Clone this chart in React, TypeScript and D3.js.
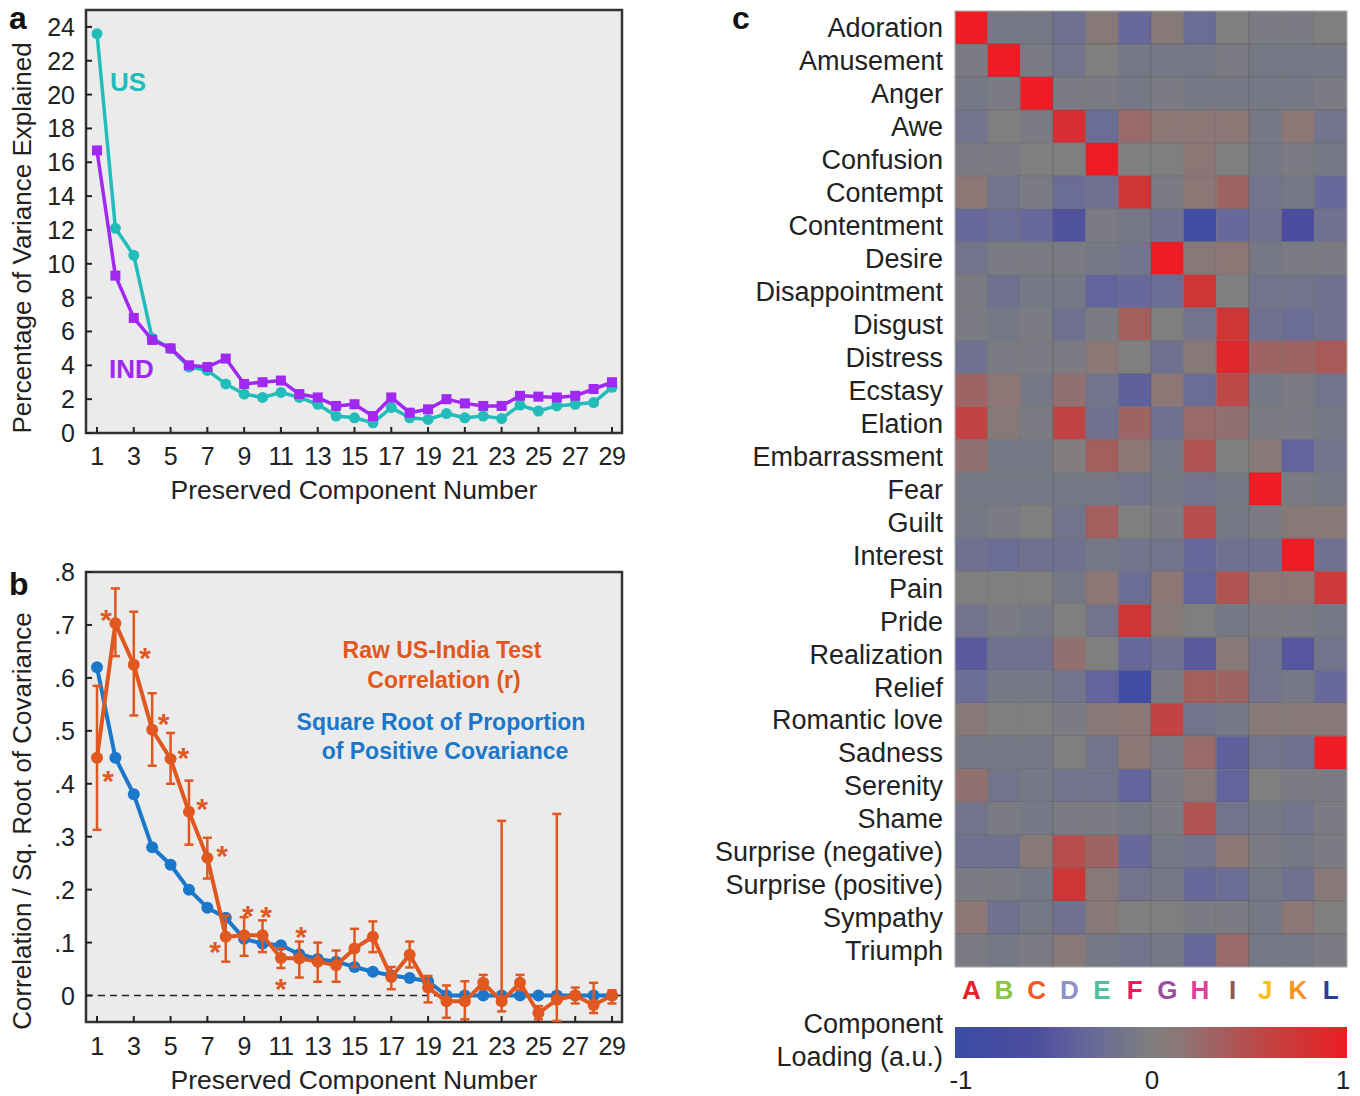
import React from "react";
import * as d3 from "d3";

// ---------- DATA ----------
const componentNums = d3.range(1, 30);
const xTickLabels = [1, 3, 5, 7, 9, 11, 13, 15, 17, 19, 21, 23, 25, 27, 29];

// Panel a: % variance explained
const usVariance = [23.6, 12.1, 10.5, 5.6, 5.0, 3.9, 3.7, 2.9, 2.3, 2.1, 2.4, 2.1, 1.7, 1.0, 0.9, 0.6, 1.5, 0.9, 0.8, 1.15, 0.9, 1.0, 0.85, 1.65, 1.3, 1.6, 1.7, 1.8, 2.7];
const indVariance = [16.7, 9.3, 6.8, 5.5, 5.0, 4.0, 3.9, 4.4, 2.9, 3.0, 3.1, 2.3, 2.1, 1.6, 1.7, 1.0, 2.1, 1.2, 1.4, 2.0, 1.75, 1.6, 1.6, 2.2, 2.15, 2.1, 2.2, 2.6, 3.0];
const yTicksA = [0, 2, 4, 6, 8, 10, 12, 14, 16, 18, 20, 22, 24];

// Panel b: correlations
const rawCorr = [0.449, 0.703, 0.625, 0.502, 0.447, 0.347, 0.26, 0.111, 0.114, 0.114, 0.071, 0.07, 0.064, 0.057, 0.089, 0.111, 0.035, 0.077, 0.015, -0.011, -0.011, 0.024, -0.011, 0.024, -0.033, -0.008, 0.0, -0.018, 0.0];
const rawHi = [0.585, 0.769, 0.725, 0.571, 0.496, 0.406, 0.298, 0.151, 0.148, 0.142, 0.089, 0.102, 0.1, 0.085, 0.126, 0.14, 0.054, 0.102, 0.037, 0.019, 0.027, 0.039, 0.33, 0.039, -0.02, 0.343, 0.015, 0.024, 0.01];
const rawLo = [0.313, 0.641, 0.529, 0.434, 0.4, 0.285, 0.221, 0.064, 0.075, 0.082, 0.052, 0.034, 0.026, 0.026, 0.054, 0.082, 0.012, 0.053, -0.013, -0.042, -0.045, 0.012, -0.03, 0.01, -0.045, -0.048, -0.015, -0.033, -0.015];
const sqrtPosCov = [0.62, 0.449, 0.38, 0.28, 0.247, 0.2, 0.166, 0.147, 0.107, 0.098, 0.095, 0.078, 0.069, 0.064, 0.054, 0.045, 0.038, 0.033, 0.027, 0, 0, 0, 0, 0, 0, 0, 0, 0, 0];
const yTicksB = [0, 0.1, 0.2, 0.3, 0.4, 0.5, 0.6, 0.7, 0.8];
const yTickLabelsB = ["0", ".1", ".2", ".3", ".4", ".5", ".6", ".7", ".8"];
const starX = [1.6, 1.5, 3.62, 4.62, 5.7, 6.72, 7.8, 7.42, 9.2, 10.2, 11.0, 12.1];
const starY = [0.419, 0.723, 0.651, 0.526, 0.462, 0.366, 0.277, 0.095, 0.164, 0.161, 0.025, 0.123];

// Panel c: heatmap
const emotions = ["Adoration", "Amusement", "Anger", "Awe", "Confusion", "Contempt", "Contentment", "Desire", "Disappointment", "Disgust", "Distress", "Ecstasy", "Elation", "Embarrassment", "Fear", "Guilt", "Interest", "Pain", "Pride", "Realization", "Relief", "Romantic love", "Sadness", "Serenity", "Shame", "Surprise (negative)", "Surprise (positive)", "Sympathy", "Triumph"];
const components = ["A", "B", "C", "D", "E", "F", "G", "H", "I", "J", "K", "L"];
const componentColors = ["#e8202a", "#8cc63e", "#f15a24", "#8e90cc", "#52bf9b", "#ec1b5a", "#9b4f9f", "#e0409a", "#8b5a4a", "#fdc010", "#f7931e", "#2b3d96"];
const loadings = [
  [1, -0.1, -0.1, -0.2, 0.1, -0.3, 0.1, -0.25, 0, -0.05, -0.05, 0],
  [-0.05, 1, -0.05, -0.15, 0, -0.1, -0.1, -0.1, -0.05, -0.1, -0.1, -0.1],
  [-0.1, -0.05, 1, -0.05, -0.05, -0.1, -0.05, -0.1, -0.1, -0.1, -0.1, -0.05],
  [-0.15, 0, -0.05, 0.82, -0.25, 0.25, 0.15, 0.15, 0.15, -0.1, 0.15, -0.15],
  [-0.05, -0.05, 0, 0, 1, 0, 0, 0.15, 0, -0.1, -0.05, -0.1],
  [0.15, -0.15, -0.05, -0.25, -0.2, 0.75, -0.05, 0.15, 0.3, -0.15, -0.1, -0.3],
  [-0.3, -0.25, -0.3, -0.55, -0.05, -0.1, -0.2, -0.8, -0.3, -0.2, -0.6, -0.2],
  [-0.15, -0.05, -0.05, -0.05, -0.1, -0.15, 1, 0.1, 0.15, -0.1, -0.05, -0.05],
  [-0.05, -0.2, -0.1, -0.1, -0.35, -0.3, -0.25, 0.75, 0, -0.15, -0.15, -0.2],
  [-0.05, -0.1, -0.05, -0.2, -0.05, 0.35, 0, -0.15, 0.75, -0.2, -0.25, -0.2],
  [-0.2, -0.05, -0.05, -0.05, 0.15, 0, -0.2, 0.1, 0.9, 0.3, 0.3, 0.4],
  [0.3, 0.15, -0.1, 0.2, -0.15, -0.4, 0.15, -0.25, 0.55, -0.1, -0.05, -0.15],
  [0.6, 0.1, -0.05, 0.6, -0.2, 0.3, -0.2, 0.25, 0.2, -0.05, -0.05, -0.1],
  [0.2, -0.1, -0.1, 0.05, 0.35, 0.15, -0.1, 0.45, 0, 0.1, -0.35, -0.15],
  [-0.1, -0.1, -0.1, -0.1, -0.1, -0.15, -0.1, -0.15, -0.1, 1, -0.05, -0.1],
  [-0.1, -0.05, 0, -0.15, 0.35, 0, -0.05, 0.5, -0.1, -0.05, 0.1, 0.1],
  [-0.2, -0.25, -0.2, -0.2, -0.1, -0.15, -0.15, -0.3, -0.2, -0.2, 1, -0.2],
  [0, 0, 0, -0.1, 0.15, -0.25, 0.15, -0.35, 0.45, 0.15, 0.15, 0.7],
  [-0.15, -0.05, -0.1, 0, -0.15, 0.75, 0.1, 0, -0.1, -0.05, -0.05, -0.1],
  [-0.45, -0.2, -0.2, 0.2, 0, -0.3, -0.2, -0.45, 0.1, -0.15, -0.5, -0.15],
  [-0.25, -0.1, -0.1, -0.15, -0.35, -0.85, -0.05, 0.35, 0.3, -0.15, -0.1, -0.3],
  [0.1, 0, 0, -0.05, 0.1, 0.15, 0.6, -0.15, -0.1, 0.1, 0.1, 0.1],
  [-0.1, -0.1, -0.1, 0, -0.15, 0.15, -0.05, 0.25, -0.4, -0.15, -0.2, 1],
  [0.2, -0.15, -0.1, -0.15, -0.15, -0.35, -0.05, 0.1, -0.35, 0, -0.05, -0.05],
  [-0.15, -0.05, -0.1, -0.05, -0.05, -0.1, -0.05, 0.45, -0.15, -0.1, -0.15, -0.05],
  [-0.2, -0.2, 0.1, 0.5, 0.3, -0.3, -0.1, -0.15, 0.15, -0.05, -0.1, -0.05],
  [-0.05, -0.05, -0.1, 0.75, 0.1, -0.15, -0.1, -0.3, -0.25, -0.1, -0.2, 0.1],
  [0.15, -0.2, -0.1, -0.2, 0.1, 0, 0, -0.05, -0.05, -0.1, 0.15, 0],
  [-0.05, -0.1, -0.05, 0.1, -0.1, -0.15, -0.1, -0.3, 0.25, -0.1, -0.1, -0.05],
];
const colorbarTicks = [-1, 0, 1];

// ---------- STYLE ----------
const FONT = "'Liberation Sans', Arial, Helvetica, sans-serif";
const US_COLOR = "#22bdbb";
const IND_COLOR = "#a028f0";
const RAW_COLOR = "#e0581f";
const SQRT_COLOR = "#1b77c9";
const PANEL_BG = "#ebebeb";

const loadColor = d3
  .scaleLinear<string>()
  .domain([-1, -0.6, -0.3, -0.1, 0, 0.15, 0.35, 0.6, 0.85, 1])
  .range(["#3b4ca4", "#4b4d9e", "#68699a", "#777886", "#7f7f7f", "#8c7676", "#a45e5e", "#c24343", "#da2c2e", "#ee1c25"])
  .interpolate(d3.interpolateRgb)
  .clamp(true);

function App() {
  // Panel a scales
  const frameA = { left: 86, right: 622, top: 10, bottom: 433 };
  const xA = d3.scaleLinear().domain([1, 29]).range([97, 612]);
  const yA = d3.scaleLinear().domain([0, 25]).range([frameA.bottom, frameA.top]);
  const lineA = d3
    .line<number>()
    .x((_, i) => xA(componentNums[i]))
    .y((d) => yA(d));

  // Panel b scales
  const frameB = { left: 86, right: 622, top: 572, bottom: 1022 };
  const xB = d3.scaleLinear().domain([1, 29]).range([97, 612]);
  const yB = d3.scaleLinear().domain([-0.05, 0.8]).range([frameB.bottom, frameB.top]);
  const lineB = d3
    .line<number>()
    .x((_, i) => xB(componentNums[i]))
    .y((d) => yB(d));

  // Panel c scales
  const xC = d3.scaleBand<string>().domain(components).range([955, 1347]);
  const yC = d3.scaleBand<string>().domain(emotions).range([11, 967]);
  const cbX = d3.scaleLinear().domain([-1, 1]).range([955, 1347]);
  const gradStops = d3.range(0, 1.0001, 0.025);

  const tickLen = 6;

  return (
    <svg
      width={1360}
      height={1096}
      style={{ position: "absolute", left: 0, top: 0, display: "block", background: "#fff" }}
      fontFamily={FONT}
    >
      <defs>
        <linearGradient id="cbar" x1="0" x2="1" y1="0" y2="0">
          {gradStops.map((t) => (
            <stop key={t} offset={`${t * 100}%`} stopColor={loadColor(-1 + 2 * t)} />
          ))}
        </linearGradient>
      </defs>

      {/* ================= Panel a ================= */}
      <text x={9} y={29} fontSize={32} fontWeight="bold" fill="#111">a</text>
      <rect
        x={frameA.left}
        y={frameA.top}
        width={frameA.right - frameA.left}
        height={frameA.bottom - frameA.top}
        fill={PANEL_BG}
        stroke="#333"
        strokeWidth={2.5}
      />
      {yTicksA.map((t) => (
        <g key={`ya${t}`}>
          <line x1={frameA.left} x2={frameA.left + tickLen} y1={yA(t)} y2={yA(t)} stroke="#222" strokeWidth={2} />
          <text x={75} y={yA(t)} dy="0.36em" textAnchor="end" fontSize={25} fill="#222">{t}</text>
        </g>
      ))}
      {xTickLabels.map((t) => (
        <g key={`xa${t}`}>
          <line x1={xA(t)} x2={xA(t)} y1={frameA.bottom} y2={frameA.bottom - tickLen} stroke="#222" strokeWidth={2} />
          <text x={xA(t)} y={456} dy="0.36em" textAnchor="middle" fontSize={25} fill="#222" letterSpacing={-0.5}>{t}</text>
        </g>
      ))}
      <text x={354} y={489} dy="0.36em" textAnchor="middle" fontSize={26.5} fill="#222">Preserved Component Number</text>
      <text transform={`translate(22,238) rotate(-90)`} dy="0.36em" textAnchor="middle" fontSize={26} fill="#222">
        Percentage of Variance Explained
      </text>

      <path d={lineA(usVariance) || ""} fill="none" stroke={US_COLOR} strokeWidth={3.5} strokeLinejoin="round" />
      {usVariance.map((v, i) => (
        <circle key={`us${i}`} cx={xA(componentNums[i])} cy={yA(v)} r={5.5} fill={US_COLOR} />
      ))}
      <path d={lineA(indVariance) || ""} fill="none" stroke={IND_COLOR} strokeWidth={3.5} strokeLinejoin="round" />
      {indVariance.map((v, i) => (
        <rect key={`ind${i}`} x={xA(componentNums[i]) - 5} y={yA(v) - 5} width={10} height={10} fill={IND_COLOR} />
      ))}
      <text x={110} y={82} dy="0.36em" fontSize={26} fontWeight="bold" fill={US_COLOR}>US</text>
      <text x={109} y={369} dy="0.36em" fontSize={26} fontWeight="bold" fill={IND_COLOR}>IND</text>

      {/* ================= Panel b ================= */}
      <text x={9} y={595} fontSize={32} fontWeight="bold" fill="#111">b</text>
      <rect
        x={frameB.left}
        y={frameB.top}
        width={frameB.right - frameB.left}
        height={frameB.bottom - frameB.top}
        fill={PANEL_BG}
        stroke="#333"
        strokeWidth={2.5}
      />
      {yTicksB.map((t, i) => (
        <g key={`yb${t}`}>
          <line x1={frameB.left} x2={frameB.left + tickLen} y1={yB(t)} y2={yB(t)} stroke="#222" strokeWidth={2} />
          <text x={75} y={yB(t)} dy="0.36em" textAnchor="end" fontSize={25} fill="#222">{yTickLabelsB[i]}</text>
        </g>
      ))}
      {xTickLabels.map((t) => (
        <g key={`xb${t}`}>
          <line x1={xB(t)} x2={xB(t)} y1={frameB.bottom} y2={frameB.bottom - tickLen} stroke="#222" strokeWidth={2} />
          <text x={xB(t)} y={1046} dy="0.36em" textAnchor="middle" fontSize={25} fill="#222" letterSpacing={-0.5}>{t}</text>
        </g>
      ))}
      <text x={354} y={1079} dy="0.36em" textAnchor="middle" fontSize={26.5} fill="#222">Preserved Component Number</text>
      <text transform={`translate(22,821) rotate(-90)`} dy="0.36em" textAnchor="middle" fontSize={26} fill="#222">
        Correlation / Sq. Root of Covariance
      </text>

      <line x1={frameB.left} x2={frameB.right} y1={yB(0)} y2={yB(0)} stroke="#222" strokeWidth={1.6} strokeDasharray="7,5" />

      {/* blue series */}
      <path d={lineB(sqrtPosCov) || ""} fill="none" stroke={SQRT_COLOR} strokeWidth={4} strokeLinejoin="round" />
      {sqrtPosCov.map((v, i) => (
        <circle key={`sq${i}`} cx={xB(componentNums[i])} cy={yB(v)} r={6} fill={SQRT_COLOR} />
      ))}

      {/* orange series with error bars */}
      {rawCorr.map((_, i) => {
        const cx = xB(componentNums[i]);
        return (
          <g key={`eb${i}`} stroke={RAW_COLOR} strokeWidth={2.5}>
            <line x1={cx} x2={cx} y1={yB(rawHi[i])} y2={yB(rawLo[i])} />
            <line x1={cx - 4.5} x2={cx + 4.5} y1={yB(rawHi[i])} y2={yB(rawHi[i])} />
            <line x1={cx - 4.5} x2={cx + 4.5} y1={yB(rawLo[i])} y2={yB(rawLo[i])} />
          </g>
        );
      })}
      <path d={lineB(rawCorr) || ""} fill="none" stroke={RAW_COLOR} strokeWidth={4} strokeLinejoin="round" />
      {rawCorr.map((v, i) => (
        <circle key={`rc${i}`} cx={xB(componentNums[i])} cy={yB(v)} r={6} fill={RAW_COLOR} />
      ))}
      {starX.map((sx, i) => (
        <text key={`st${i}`} x={xB(sx)} y={yB(starY[i]) + 17} textAnchor="middle" fontSize={30} fontWeight="bold" fill={RAW_COLOR}>*</text>
      ))}

      <g fontSize={23} fontWeight="bold" textAnchor="middle">
        <text x={442} y={650} dy="0.36em" fill={RAW_COLOR}>Raw US-India Test</text>
        <text x={444} y={680} dy="0.36em" fill={RAW_COLOR}>Correlation (r)</text>
        <text x={441} y={722} dy="0.36em" fill={SQRT_COLOR}>Square Root of Proportion</text>
        <text x={445} y={751} dy="0.36em" fill={SQRT_COLOR}>of Positive Covariance</text>
      </g>

      {/* ================= Panel c ================= */}
      <text x={732} y={29} fontSize={32} fontWeight="bold" fill="#111">c</text>
      {loadings.map((row, ri) =>
        row.map((v, ci) => (
          <rect
            key={`c${ri}-${ci}`}
            x={xC(components[ci])}
            y={yC(emotions[ri])}
            width={xC.bandwidth()}
            height={yC.bandwidth()}
            fill={loadColor(v)}
            stroke="rgba(80,80,80,0.3)"
            strokeWidth={1}
          />
        ))
      )}
      <rect x={955} y={11} width={392} height={956} fill="none" stroke="#bbb" strokeWidth={1} />
      {emotions.map((e) => (
        <text key={e} x={943} y={(yC(e) || 0) + yC.bandwidth() / 2} dy="0.36em" textAnchor="end" fontSize={27} fill="#222">
          {e}
        </text>
      ))}
      {components.map((c, i) => (
        <text
          key={c}
          x={(xC(c) || 0) + xC.bandwidth() / 2}
          y={990}
          dy="0.36em"
          textAnchor="middle"
          fontSize={26}
          fontWeight="bold"
          fill={componentColors[i]}
        >
          {c}
        </text>
      ))}

      {/* colorbar */}
      <rect x={cbX(-1)} y={1027} width={cbX(1) - cbX(-1)} height={31} fill="url(#cbar)" />
      <text x={943} y={1023} dy="0.36em" textAnchor="end" fontSize={27} fill="#222">Component</text>
      <text x={943} y={1056} dy="0.36em" textAnchor="end" fontSize={27} fill="#222">Loading (a.u.)</text>
      {colorbarTicks.map((t) => (
        <text
          key={`cb${t}`}
          x={t === -1 ? cbX(t) + 6 : t === 1 ? cbX(t) - 4 : cbX(t) + 1}
          y={1080}
          dy="0.36em"
          textAnchor="middle"
          fontSize={26}
          fill="#222"
        >
          {t}
        </text>
      ))}
    </svg>
  );
}

export default App;
